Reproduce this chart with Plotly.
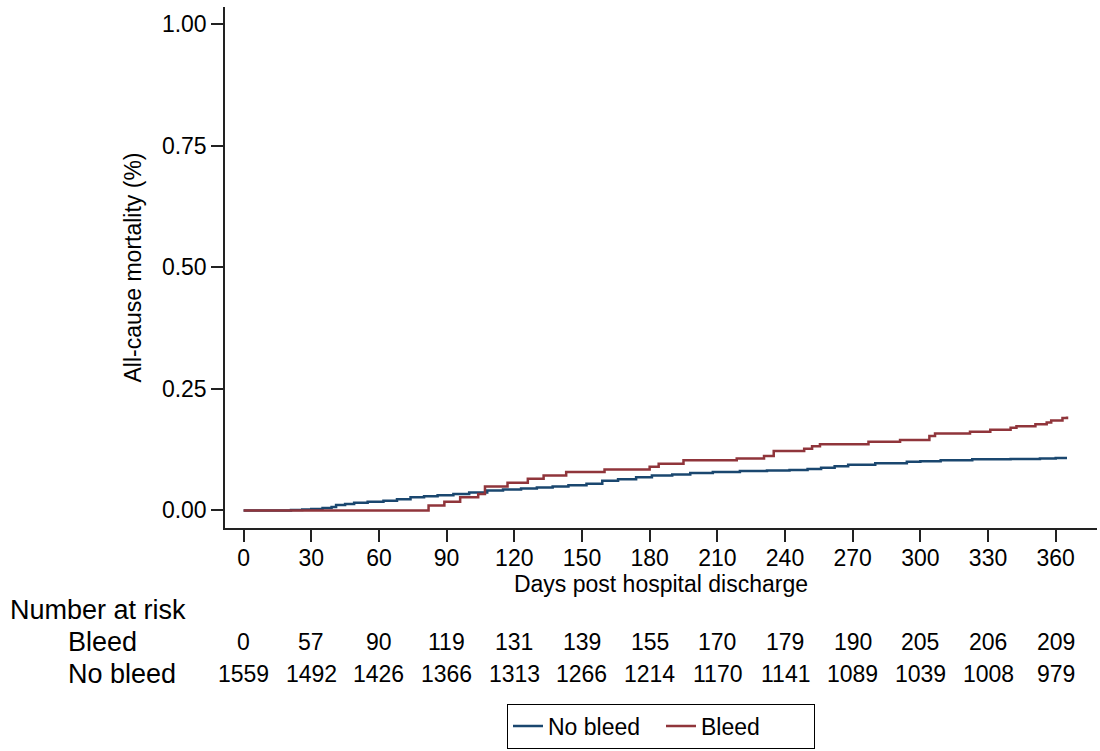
import plotly.graph_objects as go

# Kaplan-Meier style cumulative all-cause mortality (step functions)
no_bleed_days = [0, 21, 26, 30, 35, 39, 41, 45, 49, 55, 62, 68, 74, 80, 86, 93, 100,
                 108, 115, 123, 130, 137, 144, 152, 159, 166, 174, 181, 190, 198, 208,
                 220, 232, 242, 250, 256, 262, 268, 280, 294, 300, 309, 323, 340, 353,
                 360, 365]
no_bleed_mort = [0.000, 0.001, 0.002, 0.003, 0.005, 0.007, 0.011, 0.013, 0.016, 0.018,
                 0.020, 0.023, 0.027, 0.029, 0.031, 0.034, 0.037, 0.041, 0.043, 0.045,
                 0.047, 0.049, 0.052, 0.055, 0.061, 0.064, 0.068, 0.072, 0.074, 0.077,
                 0.079, 0.081, 0.082, 0.083, 0.085, 0.088, 0.091, 0.094, 0.097, 0.100,
                 0.101, 0.103, 0.105, 0.106, 0.107, 0.108, 0.108]

bleed_days = [0, 82, 89, 96, 104, 107, 117, 126, 133, 143, 160, 180, 184, 195, 218.6,
              230.7, 235, 248.5, 252, 255.5, 277, 291, 304, 306.5, 322, 331, 340, 342.6,
              351, 356, 358, 363, 365]
bleed_mort = [0.000, 0.010, 0.018, 0.027, 0.034, 0.049, 0.057, 0.065, 0.072, 0.079,
              0.084, 0.090, 0.096, 0.103, 0.107, 0.112, 0.122, 0.127, 0.132, 0.136,
              0.141, 0.145, 0.153, 0.158, 0.162, 0.166, 0.170, 0.173, 0.177, 0.181,
              0.185, 0.190, 0.193]

# Number-at-risk table
risk_days = [0, 30, 60, 90, 120, 150, 180, 210, 240, 270, 300, 330, 360]
risk_bleed = [0, 57, 90, 119, 131, 139, 155, 170, 179, 190, 205, 206, 209]
risk_no_bleed = [1559, 1492, 1426, 1366, 1313, 1266, 1214, 1170, 1141, 1089, 1039, 1008, 979]

y_ticks = [0, 0.25, 0.5, 0.75, 1.0]
y_tick_labels = ["0.00", "0.25", "0.50", "0.75", "1.00"]

NAVY = "#1a476f"
MAROON = "#90353b"
FONT = "Liberation Sans, Arial, Helvetica, sans-serif"

fig = go.Figure()
fig.add_trace(go.Scatter(x=no_bleed_days, y=no_bleed_mort, mode="lines",
                         line=dict(color=NAVY, width=2.5, shape="hv"),
                         name="No bleed"))
fig.add_trace(go.Scatter(x=bleed_days, y=bleed_mort, mode="lines",
                         line=dict(color=MAROON, width=2.5, shape="hv"),
                         name="Bleed"))

# risk table rows (y in paper units below the plot area)
row_y = {"header": -0.157, "bleed": -0.218, "no_bleed": -0.280}
LABEL_SIZE = 27
annotations = [
    dict(text="Number at risk", xref="paper", yref="paper", x=-0.2485, y=row_y["header"],
         xanchor="left", yanchor="middle", showarrow=False, font=dict(size=LABEL_SIZE)),
    dict(text="Bleed", xref="paper", yref="paper", x=-0.1818, y=row_y["bleed"],
         xanchor="left", yanchor="middle", showarrow=False, font=dict(size=LABEL_SIZE)),
    dict(text="No bleed", xref="paper", yref="paper", x=-0.1818, y=row_y["no_bleed"],
         xanchor="left", yanchor="middle", showarrow=False, font=dict(size=LABEL_SIZE)),
]
for d, nb, nn in zip(risk_days, risk_bleed, risk_no_bleed):
    annotations.append(dict(text=str(nb), xref="x", yref="paper", x=d, y=row_y["bleed"],
                            xanchor="center", yanchor="middle", showarrow=False,
                            font=dict(size=23)))
    annotations.append(dict(text=str(nn), xref="x", yref="paper", x=d, y=row_y["no_bleed"],
                            xanchor="center", yanchor="middle", showarrow=False,
                            font=dict(size=23)))

fig.update_layout(
    width=1100, height=751,
    margin=dict(l=225, r=3, t=7, b=223, autoexpand=False),
    paper_bgcolor="white", plot_bgcolor="white",
    font=dict(family=FONT, color="black", size=23),
    showlegend=True,
    legend=dict(orientation="h", x=0.5, xanchor="center", y=-0.337, yanchor="top",
                bordercolor="black", borderwidth=1, font=dict(size=23),
                itemwidth=30, entrywidth=108, bgcolor="white"),
    annotations=annotations,
)
fig.update_xaxes(range=[-8.24, 378.3], tickvals=risk_days, ticks="outside", ticklen=12,
                 tickwidth=1.5, tickcolor="#222", showline=True, linecolor="#222",
                 linewidth=1.5, showgrid=False, zeroline=False, ticklabelstandoff=-3,
                 title=dict(text="Days post hospital discharge", standoff=0,
                            font=dict(size=23)))
fig.update_yaxes(range=[-0.0362, 1.0356], tickvals=y_ticks, ticktext=y_tick_labels,
                 ticks="outside", ticklen=12, tickwidth=1.5, tickcolor="#222",
                 showline=True, linecolor="#222", linewidth=1.5, showgrid=False,
                 zeroline=False,
                 title=dict(text="All-cause mortality (%)", standoff=14,
                            font=dict(size=23)))

fig.write_html("out.html")
